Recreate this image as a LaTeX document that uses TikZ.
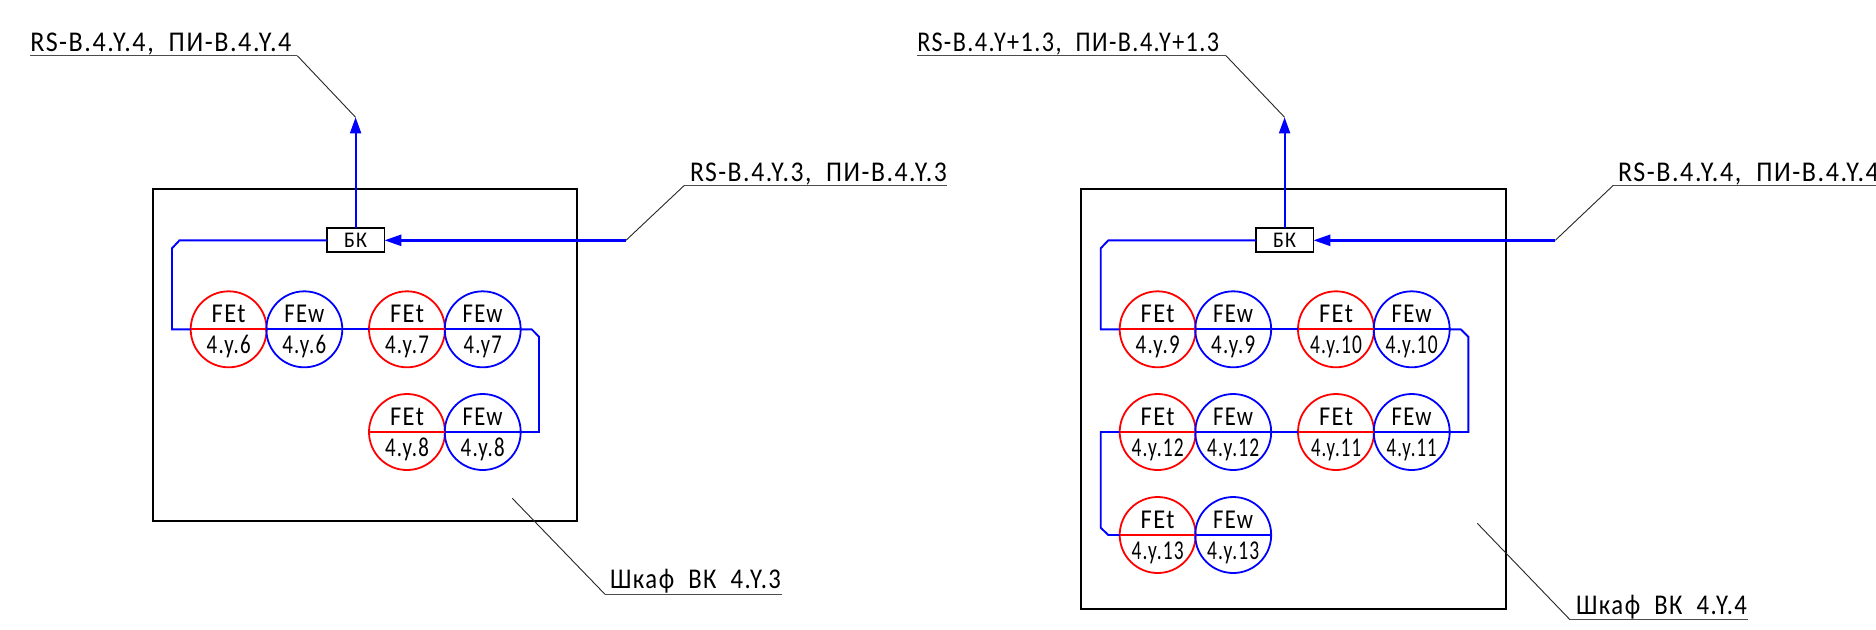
\documentclass[tikz,border=0pt]{standalone}
\usepackage{fontspec}
\usepackage{graphicx}
\setmainfont[LetterSpace=6]{Carlito}
\usetikzlibrary{arrows.meta}
\definecolor{pipeblue}{RGB}{0,0,255}
\definecolor{gaugered}{RGB}{255,0,0}
\newcommand{\fitw}[2]{\resizebox{\dimexpr#1pt/2\relax}{\height}{#2}}
\tikzset{
  x=0.5pt,y=-0.5pt,
  frame/.style={draw=black,line width=1pt,outer sep=0pt},
  redc/.style={circle,draw=gaugered,line width=0.9pt,minimum size=38pt,inner sep=0pt,outer sep=0pt},
  bluec/.style={circle,draw=pipeblue,line width=0.9pt,minimum size=38pt,inner sep=0pt,outer sep=0pt},
  pipe/.style={draw=pipeblue,line width=0.95pt},
  main/.style={draw=pipeblue,line width=1.3pt},
  rise/.style={draw=pipeblue,line width=0.95pt,-{Triangle[length=8pt,width=5.5pt]}},
  leader/.style={draw=black!85,line width=0.45pt},
  under/.style={draw=black!70,line width=0.6pt},
  lab/.style={anchor=base west,inner sep=0pt,outer sep=0pt,font=\fontsize{14.3}{14.3}\selectfont,text=black},
  small/.style={anchor=base,inner sep=0pt,outer sep=0pt,font=\fontsize{13.6}{13.6}\selectfont,text=black},
  bktext/.style={inner sep=0pt,font=\fontsize{11.2}{11.2}\selectfont,anchor=base,text=black},
  bkbox/.style={draw=black,line width=0.9pt,fill=white,minimum width=28.8pt,minimum height=12pt,inner sep=0pt,outer sep=0pt},
}
% #1 name, #2 x red, #3 x blue, #4 y, #5 label, #6 label width, #7 blue label
\newcommand{\gaugepair}[7]{
  \node[redc] (t#1) at (#2,#4) {};
  \node[bluec] (w#1) at (#3,#4) {};
  \draw[draw=gaugered,line width=0.9pt] (t#1.west) -- (t#1.east);
  \draw[pipe] (w#1.west) -- (w#1.east);
  \node[small] (ta#1) at (#2,#4-7) {\fitw{34}{FEt}};
  \node[small] (wa#1) at (#3,#4-7) {\fitw{40}{FEw}};
  \node[small] (tb#1) at (#2,#4+24) {\fitw{#6}{#5}};
  \node[small] (wb#1) at (#3,#4+24) {#7};
}
\begin{document}
\begin{tikzpicture}
\clip (0,0) rectangle (1876,629);
\fill[white] (0,0) rectangle (1876,629);

% ---------- left panel ----------
\node[frame,minimum width=212pt,minimum height=165.8pt,inner sep=0pt,anchor=north west] (cabL) at (152.7,189) {};
\node[bkbox] (bkL) at (355.6,240.3) {};
\node[bktext] (bkLt) at (355.6,247.7) {\fitw{23}{БК}};
\gaugepair{6}{228.7}{304.3}{329.3}{4.y.6}{44}{\fitw{44}{4.y.6}}
\gaugepair{7}{407}{482.7}{329.3}{4.y.7}{44}{\fitw{38}{4.y7}}
\gaugepair{8}{407}{482.7}{432}{4.y.8}{44}{\fitw{44}{4.y.8}}
\draw[pipe] (w6.east) -- (t7.west);
\draw[pipe] (t6.west) -- (172,329.3) -- (172,248.3) -- (179.5,240.3) -- (bkL.west);
\draw[pipe] (w7.east) -- (531.7,329.3) -- (539,336.7) -- (539,432) -- (w8.east);
\coordinate (upL) at (355.6,117.3);
\draw[rise] (bkL.north) -- (upL);
\coordinate (inL) at (626,240.3);
\draw[main,-{Triangle[length=8.5pt,width=5.5pt]}] (inL) -- (bkL.east);
\node[lab] (l1) at (30.4,51.7) {\fitw{261}{RS-B.4.Y.4,\ \ ПИ-B.4.Y.4}};
\coordinate (l1a) at (30.4,55.7); \coordinate (l1b) at (297.3,55.7);
\draw[under] (l1a) -- (l1b);
\draw[leader] (l1b) -- (upL);
\node[lab] (l2) at (690,181.7) {\fitw{257}{RS-B.4.Y.3,\ \ ПИ-B.4.Y.3}};
\coordinate (l2a) at (684.4,185.3); \coordinate (l2b) at (947,185.3);
\draw[under] (l2a) -- (l2b);
\draw[leader] (inL) -- (l2a);
\node[lab] (l3) at (610,588.7) {\fitw{171}{Шкаф\ \ ВК\ \ 4.Y.3}};
\coordinate (l3s) at (512.3,498.3); \coordinate (l3a) at (605,594.3); \coordinate (l3b) at (781.7,594.3);
\draw[leader] (l3s) -- (l3a);
\draw[under] (l3a) -- (l3b);

% ---------- right panel ----------
\node[frame,minimum width=212.4pt,minimum height=210pt,inner sep=0pt,anchor=north west] (cabR) at (1081,189) {};
\node[bkbox] (bkR) at (1284.6,240.3) {};
\node[bktext] (bkRt) at (1284.6,247.7) {\fitw{23}{БК}};
\gaugepair{9}{1157.7}{1233.2}{329.3}{4.y.9}{44}{\fitw{44}{4.y.9}}
\gaugepair{10}{1336}{1411.7}{329.3}{4.y.10}{52}{\fitw{52}{4.y.10}}
\gaugepair{11}{1336}{1411.7}{432}{4.y.11}{50}{\fitw{50}{4.y.11}}
\gaugepair{12}{1157.7}{1233.2}{432}{4.y.12}{52}{\fitw{52}{4.y.12}}
\gaugepair{13}{1157.7}{1233.2}{535}{4.y.13}{52}{\fitw{52}{4.y.13}}
\draw[pipe] (w9.east) -- (t10.west);
\draw[pipe] (w12.east) -- (t11.west);
\draw[pipe] (t9.west) -- (1100.7,329.3) -- (1100.7,248.3) -- (1108.3,240.3) -- (bkR.west);
\draw[pipe] (w10.east) -- (1460.7,329.3) -- (1468.3,336.7) -- (1468.3,432) -- (w11.east);
\draw[pipe] (t12.west) -- (1100.7,432) -- (1100.7,527.7) -- (1108.3,535) -- (t13.west);
\coordinate (upR) at (1284.6,117.3);
\draw[rise] (bkR.north) -- (upR);
\coordinate (inR) at (1555.3,240.3);
\draw[main,-{Triangle[length=8.5pt,width=5.5pt]}] (inR) -- (bkR.east);
\node[lab] (r1) at (917.3,51.7) {\fitw{302}{RS-B.4.Y+1.3,\ \ ПИ-B.4.Y+1.3}};
\coordinate (r1a) at (917.3,55.7); \coordinate (r1b) at (1226,55.7);
\draw[under] (r1a) -- (r1b);
\draw[leader] (r1b) -- (upR);
\node[lab] (r2) at (1618,181.7) {\fitw{261}{RS-B.4.Y.4,\ \ ПИ-B.4.Y.4}};
\coordinate (r2a) at (1613.3,185.3); \coordinate (r2b) at (1876,185.3);
\draw[under] (r2a) -- (r2b);
\draw[leader] (inR) -- (r2a);
\node[lab] (r3) at (1576,614) {\fitw{171}{Шкаф\ \ ВК\ \ 4.Y.4}};
\coordinate (r3s) at (1477.3,523.3); \coordinate (r3a) at (1570,619.7); \coordinate (r3b) at (1748,619.7);
\draw[leader] (r3s) -- (r3a);
\draw[under] (r3a) -- (r3b);
\end{tikzpicture}
\end{document}
